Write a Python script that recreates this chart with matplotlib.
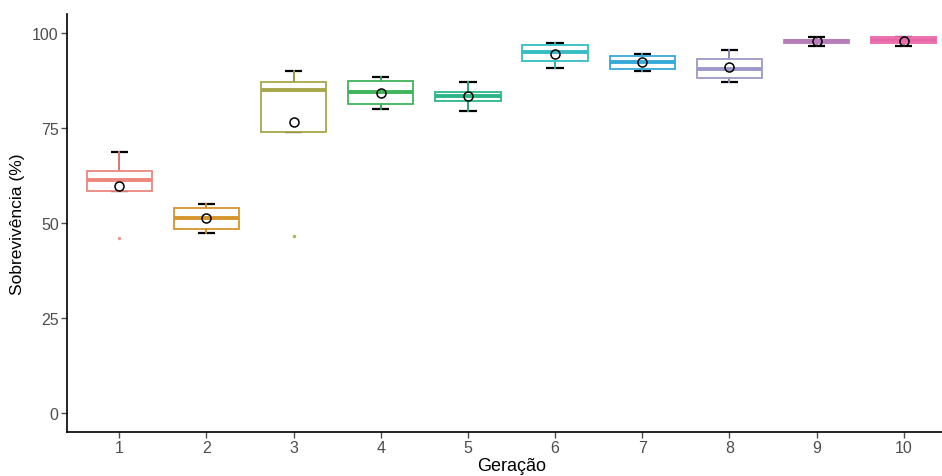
import matplotlib.pyplot as plt

plt.rcParams['font.family'] = ['Liberation Sans', 'DejaVu Sans']

geracao = [1, 2, 3, 4, 5, 6, 7, 8, 9, 10]
whisk_lo = [58.5, 47.3, 74.0, 80.0, 79.6, 90.9, 89.9, 87.0, 96.5, 96.5]
q1 = [58.5, 48.5, 74.0, 81.4, 82.2, 92.6, 90.5, 88.1, 97.3, 97.3]
mediana = [61.2, 51.4, 84.9, 84.5, 83.5, 95.1, 92.3, 90.6, 97.8, 98.1]
q3 = [63.6, 54.0, 87.2, 87.5, 84.5, 96.8, 94.0, 93.2, 98.2, 98.9]
whisk_hi = [68.6, 55.0, 90.0, 88.5, 87.1, 97.3, 94.6, 95.4, 98.9, 98.9]
media = [59.7, 51.3, 76.5, 84.3, 83.4, 94.5, 92.3, 91.0, 97.8, 98.0]
outliers = [[46.0], [], [46.6], [], [], [], [], [], [], []]

cores = ['#EC877E', '#D6952A', '#A7A64A', '#3FB45C', '#2DB58A',
         '#35BEC2', '#36A9D8', '#9C98C9', '#B67DBA', '#E766A8']

stats = []
for i in range(len(geracao)):
    stats.append({'whislo': whisk_lo[i], 'q1': q1[i], 'med': mediana[i],
                  'q3': q3[i], 'whishi': whisk_hi[i], 'fliers': outliers[i]})

fig = plt.figure(figsize=(9.42, 4.77), dpi=100)
ax = fig.add_axes([67 / 942, 44 / 477, 889 / 942, 418 / 477])

# barras de erro pretas (stat_boxplot errorbar)
ax.vlines(geracao, whisk_lo, whisk_hi, color='black', lw=1.3, zorder=1)
ax.hlines(whisk_lo, [g - 0.1 for g in geracao], [g + 0.1 for g in geracao],
          color='black', lw=1.6, zorder=1)
ax.hlines(whisk_hi, [g - 0.1 for g in geracao], [g + 0.1 for g in geracao],
          color='black', lw=1.6, zorder=1)

bp = ax.bxp(stats, positions=geracao, widths=0.75, patch_artist=True,
            showcaps=False, showfliers=True, zorder=2)
for i, c in enumerate(cores):
    bp['boxes'][i].set(facecolor='white', edgecolor=c, linewidth=1.3)
    bp['medians'][i].set(color=c, linewidth=2.8, solid_capstyle='butt')
    bp['whiskers'][2 * i].set(color=c, linewidth=1.3)
    bp['whiskers'][2 * i + 1].set(color=c, linewidth=1.3)
    bp['fliers'][i].set(marker='o', markersize=1.5, markerfacecolor=c,
                        markeredgecolor=c, alpha=0.8)

ax.plot(geracao, media, 'o', markersize=6.5, markerfacecolor='none',
        markeredgecolor='black', markeredgewidth=1.1, zorder=4)

ax.set_xlim(0.4, 10.6)
ax.set_ylim(-5, 105)
ax.set_xticks(geracao)
ax.set_xticklabels([str(g) for g in geracao])
ax.set_yticks([0, 25, 50, 75, 100])
ax.tick_params(colors='#4D4D4D', labelsize=11.5, length=4, width=1, pad=2)
for s in ['top', 'right']:
    ax.spines[s].set_visible(False)
for s in ['left', 'bottom']:
    ax.spines[s].set_linewidth(1.2)
    ax.spines[s].set_color('black')

ax.set_xlabel('Geração', fontsize=13, labelpad=1)
ax.set_ylabel('Sobrevivência (%)', fontsize=12.5, labelpad=5)

fig.savefig('out.png', dpi=100)
